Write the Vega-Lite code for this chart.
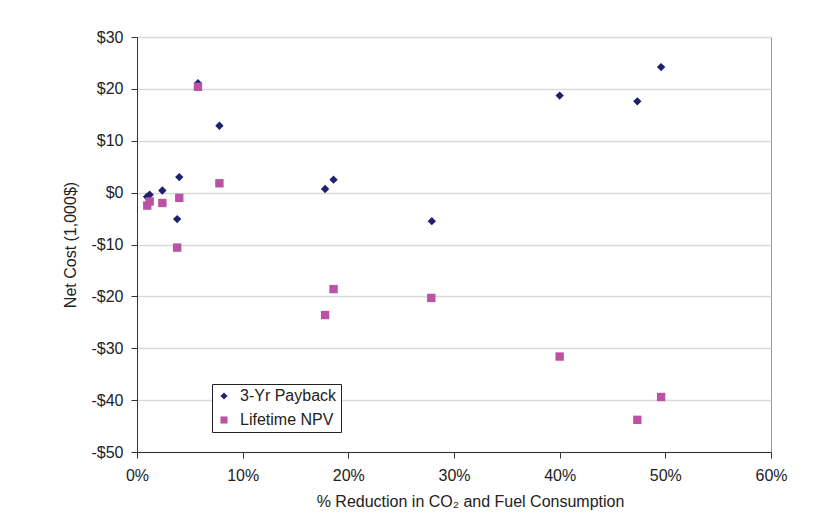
{
  "$schema": "https://vega.github.io/schema/vega-lite/v6.json",
  "autosize": {"type": "none"},
  "width": 634,
  "height": 415,
  "padding": {"left": 137, "top": 37, "right": 67, "bottom": 73},
  "background": "white",
  "config": {
    "font": "Liberation Sans",
    "view": {"stroke": "#999999", "strokeWidth": 1},
    "axis": {
      "labelFont": "Liberation Sans",
      "titleFont": "Liberation Sans",
      "labelFontSize": 16,
      "titleFontSize": 16,
      "titleFontWeight": "normal",
      "labelColor": "#222222",
      "titleColor": "#222222",
      "domainColor": "#333333",
      "tickColor": "#333333",
      "tickSize": 6,
      "labelFlush": false,
      "gridColor": "#D9D9D9",
      "gridWidth": 1.5
    }
  },
  "data": {
    "values": [
      {"reduction": 0.95, "cost": -0.8, "series": "3-Yr Payback"},
      {"reduction": 1.2, "cost": -0.4, "series": "3-Yr Payback"},
      {"reduction": 2.4, "cost": 0.4, "series": "3-Yr Payback"},
      {"reduction": 4.0, "cost": 3.0, "series": "3-Yr Payback"},
      {"reduction": 3.8, "cost": -5.1, "series": "3-Yr Payback"},
      {"reduction": 5.77, "cost": 21.1, "series": "3-Yr Payback"},
      {"reduction": 7.8, "cost": 12.9, "series": "3-Yr Payback"},
      {"reduction": 17.8, "cost": 0.7, "series": "3-Yr Payback"},
      {"reduction": 18.6, "cost": 2.5, "series": "3-Yr Payback"},
      {"reduction": 27.9, "cost": -5.5, "series": "3-Yr Payback"},
      {"reduction": 40.0, "cost": 18.7, "series": "3-Yr Payback"},
      {"reduction": 47.35, "cost": 17.6, "series": "3-Yr Payback"},
      {"reduction": 49.6, "cost": 24.2, "series": "3-Yr Payback"},
      {"reduction": 0.97, "cost": -2.5, "series": "Lifetime NPV"},
      {"reduction": 1.2, "cost": -1.7, "series": "Lifetime NPV"},
      {"reduction": 2.4, "cost": -2.0, "series": "Lifetime NPV"},
      {"reduction": 4.0, "cost": -1.0, "series": "Lifetime NPV"},
      {"reduction": 3.8, "cost": -10.6, "series": "Lifetime NPV"},
      {"reduction": 5.77, "cost": 20.4, "series": "Lifetime NPV"},
      {"reduction": 7.8, "cost": 1.8, "series": "Lifetime NPV"},
      {"reduction": 17.8, "cost": -23.6, "series": "Lifetime NPV"},
      {"reduction": 18.6, "cost": -18.6, "series": "Lifetime NPV"},
      {"reduction": 27.85, "cost": -20.3, "series": "Lifetime NPV"},
      {"reduction": 40.0, "cost": -31.6, "series": "Lifetime NPV"},
      {"reduction": 47.35, "cost": -43.8, "series": "Lifetime NPV"},
      {"reduction": 49.6, "cost": -39.4, "series": "Lifetime NPV"}
    ]
  },
  "mark": {"type": "point", "filled": true, "opacity": 1, "size": 70},
  "encoding": {
    "x": {
      "field": "reduction",
      "type": "quantitative",
      "scale": {"domain": [0, 60], "nice": false, "zero": false},
      "axis": {
        "values": [0, 10, 20, 30, 40, 50, 60],
        "grid": false,
        "labelExpr": "datum.value + '%'",
        "labelPadding": 9,
        "title": "% Reduction in CO₂ and Fuel Consumption",
        "titlePadding": 10,
        "titleX": 333
      }
    },
    "y": {
      "field": "cost",
      "type": "quantitative",
      "scale": {"domain": [-50, 30], "nice": false, "zero": false},
      "axis": {
        "values": [-50, -40, -30, -20, -10, 0, 10, 20, 30],
        "grid": true,
        "labelExpr": "(datum.value < 0 ? '-' : '') + '$' + abs(datum.value)",
        "labelPadding": 8,
        "title": "Net Cost (1,000$)",
        "titlePadding": 12
      }
    },
    "color": {
      "field": "series",
      "type": "nominal",
      "scale": {"domain": ["3-Yr Payback", "Lifetime NPV"], "range": ["#1F206E", "#BB52A4"]},
      "legend": {
        "title": null,
        "orient": "none",
        "legendX": 75,
        "legendY": 347,
        "fillColor": "white",
        "strokeColor": "#222222",
        "padding": 4,
        "labelFont": "Liberation Sans",
        "labelFontSize": 16,
        "labelColor": "#222222",
        "symbolSize": 50,
        "rowPadding": 8,
        "labelOffset": 8
      }
    },
    "shape": {
      "field": "series",
      "type": "nominal",
      "scale": {"domain": ["3-Yr Payback", "Lifetime NPV"], "range": ["diamond", "square"]},
      "legend": null
    }
  }
}
